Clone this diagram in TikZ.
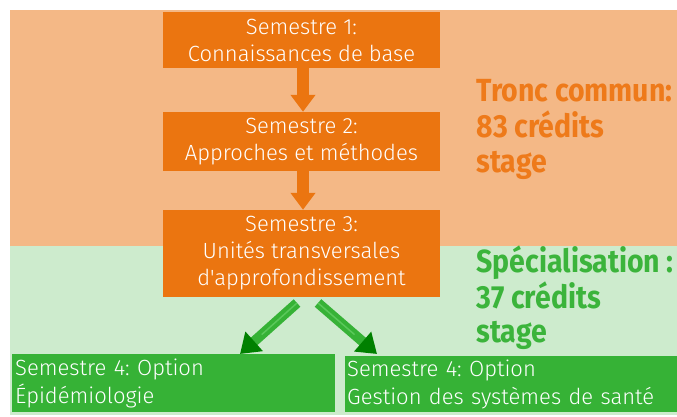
\documentclass[tikz,border=0pt]{standalone}
\usepackage{fontspec}
\setmainfont{Fira Sans}
\newfontfamily\lightf{Fira Sans}[UprightFont={* Light}]
\newfontfamily\boldf{Fira Sans}[UprightFont={* Bold}, FakeStretch=0.89]
\usetikzlibrary{arrows.meta,calc}
\definecolor{orbox}{RGB}{235,117,16}
\definecolor{orbg}{RGB}{244,184,134}
\definecolor{grbg}{RGB}{205,235,205}
\definecolor{grbox}{RGB}{54,178,54}
\definecolor{ortext}{RGB}{238,122,26}
\definecolor{grtext}{RGB}{59,180,59}
\definecolor{darkgr}{RGB}{0,128,0}
\definecolor{stripe}{RGB}{90,200,90}
\tikzset{
  obox/.style={fill=orbox, text=white, align=center, minimum width=277pt, inner sep=0pt,
    font=\lightf\fontsize{22}{27}\selectfont},
  gbox/.style={fill=grbox, text=white, align=left, inner sep=0pt, anchor=north west,
    font=\lightf\fontsize{22}{28}\selectfont},
  oarrow/.style={draw=orbox, line width=12pt, -{Triangle[width=24pt,length=17pt,color=orbox]}},
  garrow/.style={draw=grbox, line width=10pt, -{Triangle[width=25pt,length=19pt,color=darkgr]}},
  gstripe/.style={draw=stripe, line width=1.5pt},
  sidetext/.style={anchor=base west, font=\boldf\fontsize{32}{36}\selectfont},
}
\frenchspacing
\begin{document}
\begin{tikzpicture}[x=1pt,y=-1pt]
\useasboundingbox (0,0) rectangle (677,417);
\fill[orbg] (10,10) rectangle (677,246);
\fill[grbg] (10,246) rectangle (677,415);
% orange boxes
\node[obox, minimum height=56pt] (s1) at (301.5,40) {Semestre 1:\\Connaissances de base};
\node[obox, minimum height=59pt] (s2) at (301.5,141.5) {Semestre 2:\\Approches et méthodes};
\node[obox, minimum height=87pt] (s3) at (301.5,253.5) {Semestre 3:\\Unités transversales\\d'approfondissement};
% green boxes
\node[gbox, minimum width=323pt, minimum height=58pt, text width=317pt] (s4a) at (12,354) {\frenchspacing Semestre 4: Option\\Épidémiologie};
\node[gbox, minimum width=332pt, minimum height=56pt, text width=328pt] (s4b) at (345,356) {\frenchspacing Semestre 4: Option\\Gestion des systèmes de santé};
% orange arrows
\draw[oarrow] (s1.south -| 303,0) -- (s2.north -| 303,0);
\draw[oarrow] (s2.south -| 303,0) -- (s3.north -| 303,0);
% green arrows
\coordinate (t1) at (297,303);
\coordinate (h1) at (240,354);
\coordinate (t2) at (318,303);
\coordinate (h2) at (377,354);
\draw[garrow] (t1) -- (h1);
\draw[gstripe] (t1) -- ($(t1)!0.62!(h1)$);
\draw[garrow] (t2) -- (h2);
\draw[gstripe] (t2) -- ($(t2)!0.62!(h2)$);
% side texts
\node[sidetext, text=ortext] (tc1) at (473,102) {Tronc commun:};
\node[sidetext, text=ortext] (tc2) at (473,138) {83 crédits};
\node[sidetext, text=ortext] (tc3) at (473,172) {stage};
\node[sidetext, text=grtext] (sp1) at (473,272) {Spécialisation :};
\node[sidetext, text=grtext] (sp2) at (473,308) {37 crédits};
\node[sidetext, text=grtext] (sp3) at (473,342) {stage};
\end{tikzpicture}
\end{document}
